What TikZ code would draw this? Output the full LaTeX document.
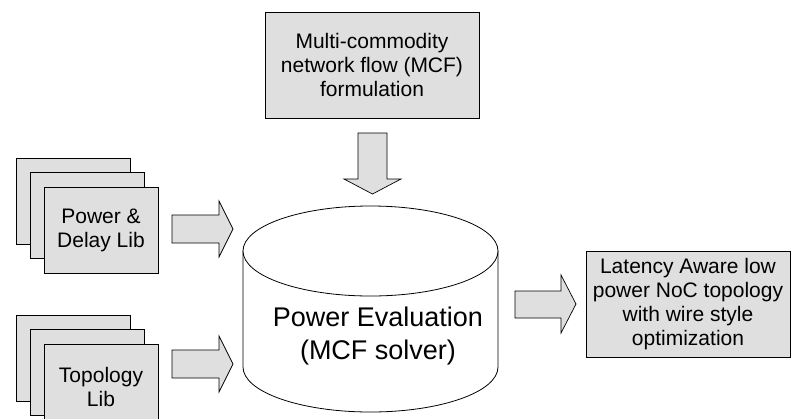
\documentclass[tikz,border=0pt]{standalone}
\usepackage{fontspec}
\setmainfont{Liberation Sans}
\usetikzlibrary{shadows}
\begin{document}
\begin{tikzpicture}[x=1pt,y=-1pt,
  boxfill/.style={fill=gray!25},
  libbox/.style={draw=black, line width=0.8pt, boxfill, minimum width=114pt, minimum height=86pt, inner sep=0pt, align=center, font=\fontsize{21}{24}\selectfont},
  procbox/.style={draw=black, line width=0.8pt, boxfill, inner sep=0pt, align=center, font=\fontsize{21}{24}\selectfont,
     drop shadow={shadow xshift=1.2pt, shadow yshift=-1.2pt, fill=black!70, opacity=1}},
  blockarrow/.style={draw=black, line width=0.7pt, boxfill, line join=miter},
  cylline/.style={draw=black, line width=0.8pt}
]
\useasboundingbox (0,0) rectangle (791,418);
\clip (0,0) rectangle (791,418);

% Power & Delay Lib stack
\node[libbox] (pd1) at (73,201) {};
\node[libbox] (pd2) at (87,215.5) {};
\node[libbox] (pd3) at (101,230) {Power \&\\Delay Lib};

% Topology Lib stack
\node[libbox] (tl1) at (73,358) {};
\node[libbox] (tl2) at (87,372.5) {};
\node[libbox] (tl3) at (101,387) {Topology\\Lib};

% MCF formulation box
\node[procbox, minimum width=214pt, minimum height=106pt] (mcf) at (372,65) {Multi-commodity\\network flow (MCF)\\formulation};

% Output box
\node[procbox, minimum width=204pt, minimum height=106pt] (out) at (688,304) {Latency Aware low\\power NoC topology\\with wire style\\optimization};

% Cylinder
\path[cylline, fill=white] (243,251) -- (243,367) arc[start angle=180, end angle=360, x radius=127.5pt, y radius=45pt] -- (498,251) -- cycle;
\draw[cylline, fill=white] (370.5,251) ellipse [x radius=127.5pt, y radius=45pt];
\node[font=\fontsize{27}{33}\selectfont, align=center] (cyl) at (378,336) {Power Evaluation\\(MCF solver)};

% Block arrows
\draw[blockarrow] (172,215) -- (219,215) -- (219,201) -- (233,229) -- (219,257) -- (219,243) -- (172,243) -- cycle;
\draw[blockarrow] (172,350) -- (219,350) -- (219,336) -- (233,364) -- (219,392) -- (219,378) -- (172,378) -- cycle;
\draw[blockarrow] (358,133) -- (387,133) -- (387,179) -- (401,179) -- (372.5,194) -- (344,179) -- (358,179) -- cycle;
\draw[blockarrow] (515,291) -- (561,291) -- (561,275) -- (576,304) -- (561,333) -- (561,318) -- (515,318) -- cycle;
\end{tikzpicture}
\end{document}
